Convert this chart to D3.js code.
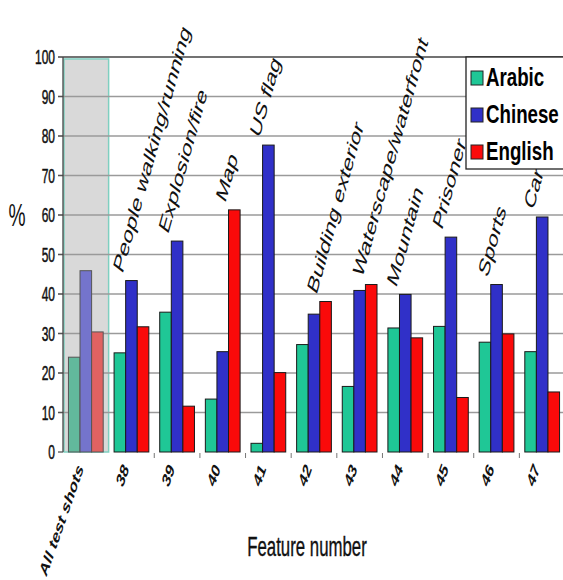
<!DOCTYPE html>
<html>
<head>
<meta charset="utf-8">
<script src="https://cdn.jsdelivr.net/npm/d3@7"></script>
<style>
  html, body { margin: 0; padding: 0; background: #fff; }
  svg { display: block; font-family: "Liberation Sans", Arial, sans-serif; }
</style>
</head>
<body>
<svg id="chart" width="563" height="580"></svg>
<script>
const categories = ["All test shots", "38", "39", "40", "41", "42", "43", "44", "45", "46", "47"];
const featureNames = ["", "People walking/running", "Explosion/fire", "Map", "US flag", "Building exterior", "Waterscape/waterfront", "Mountain", "Prisoner", "Sports", "Car"];
const seriesNames = ["Arabic", "Chinese", "English"];
const arabic  = [24.0, 25.1, 35.4, 13.4, 2.2, 27.2, 16.6, 31.4, 31.8, 27.8, 25.4];
const chinese = [45.9, 43.4, 53.4, 25.4, 77.7, 34.9, 40.9, 39.9, 54.4, 42.4, 59.5];
const english = [30.4, 31.7, 11.6, 61.3, 20.1, 38.1, 42.4, 28.9, 13.8, 29.9, 15.2];
const yTicks = [0, 10, 20, 30, 40, 50, 60, 70, 80, 90, 100];

const colors = { Arabic: "#1fc796", Chinese: "#3030c8", English: "#fa0a0a" };
const fadedColors = { Arabic: "#62b99c", Chinese: "#7474cc", English: "#e06262" };
const SX = 0.6; // horizontal compression of the picture

const svg = d3.select("#chart");
const x = d3.scaleBand().domain(categories).range([63, 565]).padding(0);
const xi = d3.scaleBand().domain(seriesNames).range([0, x.bandwidth()]).paddingInner(0).paddingOuter(0.47);
const y = d3.scaleLinear().domain([0, 100]).range([452, 57]);

const valuesBySeries = { Arabic: arabic, Chinese: chinese, English: english };
const rows = categories.map((c, i) => ({
  cat: c, idx: i, feature: featureNames[i],
  vals: seriesNames.map(s => ({ s, v: valuesBySeries[s][i] }))
}));

// Highlight box for "All test shots"
svg.append("rect")
  .attr("x", x(categories[0]) + 1)
  .attr("y", y(99.5))
  .attr("width", x.bandwidth() - 1)
  .attr("height", y(0) - y(99.5))
  .attr("fill", "#d9d9d9")
  .attr("stroke", "#7fcfc0")
  .attr("stroke-width", 1.5);

// Gridlines
svg.append("g").selectAll("line").data(yTicks).join("line")
  .attr("x1", 58).attr("x2", 563)
  .attr("y1", d => y(d)).attr("y2", d => y(d))
  .attr("stroke", d => d === 100 ? "#444" : (d === 0 ? "none" : "#9a9a9a"))
  .attr("stroke-width", d => d === 100 ? 1.6 : 1.3);

svg.append("g").selectAll("line").data(yTicks.filter(d => d > 0 && d < 100)).join("line")
  .attr("x1", 58).attr("x2", 63)
  .attr("y1", d => y(d)).attr("y2", d => y(d))
  .attr("stroke", "#555").attr("stroke-width", 1.3);

// Y axis line
svg.append("line").attr("x1", 63).attr("x2", 63).attr("y1", y(100)).attr("y2", y(0))
  .attr("stroke", "#444").attr("stroke-width", 1.3);
svg.append("line").attr("x1", 58).attr("x2", 63).attr("y1", y(0)).attr("y2", y(0))
  .attr("stroke", "#555").attr("stroke-width", 1.3);

// Y tick labels
svg.append("g").selectAll("text").data(yTicks).join("text")
  .attr("transform", d => `translate(55,${y(d) + 7}) scale(${SX},1)`)
  .attr("text-anchor", "end")
  .attr("font-size", 20)
  .attr("fill", "#111")
  .attr("stroke", "#111").attr("stroke-width", 0.5)
  .text(d => d);

// "%" label
svg.append("text")
  .attr("transform", `translate(17,226) scale(${SX},1)`)
  .attr("text-anchor", "middle")
  .attr("font-size", 32)
  .attr("fill", "#111")
  .text("%");

// Bars
const groups = svg.append("g").selectAll("g").data(rows).join("g")
  .attr("transform", d => `translate(${x(d.cat)},0)`);
groups.selectAll("rect").data(d => d.vals.map(v => ({ ...v, first: d.idx === 0 }))).join("rect")
  .attr("x", d => xi(d.s))
  .attr("width", xi.bandwidth())
  .attr("y", d => y(d.v))
  .attr("height", d => y(0) - y(d.v))
  .attr("fill", d => d.first ? fadedColors[d.s] : colors[d.s])
  .attr("stroke", d => d.first ? "#555" : "#1a1a1a")
  .attr("stroke-width", 1);

// small ticks at band boundaries under the axis
svg.append("g").selectAll("line").data(categories.slice(2)).join("line")
  .attr("x1", d => x(d)).attr("x2", d => x(d))
  .attr("y1", y(0) + 1).attr("y2", y(0) + 6)
  .attr("stroke", "#777").attr("stroke-width", 1);

// Feature name labels above bars
const FEAT_ANGLE = 65;
svg.append("g").selectAll("text").data(rows.filter(r => r.feature)).join("text")
  .attr("transform", d => {
    const mx = d.vals.reduce((a, b) => (b.v > a.v ? b : a));
    const cx = x(d.cat) + xi(mx.s) + xi.bandwidth() / 2 - 9;
    const cy = y(mx.v) - 6;
    return `translate(${cx},${cy}) scale(${SX},1) rotate(${-FEAT_ANGLE})`;
  })
  .attr("text-anchor", "start")
  .attr("font-size", 26)
  .attr("fill", "#111")
  .text(d => d.feature);

// X category labels
const XL_ANGLE = 60;
svg.append("g").selectAll("text").data(categories).join("text")
  .attr("transform", d => `translate(${x(d) + x.bandwidth() / 2 - 2},469) scale(${SX},1) rotate(${-XL_ANGLE})`)
  .attr("text-anchor", "end")
  .attr("font-size", 20)
  .attr("font-weight", "bold")
  .attr("fill", "#111")
  .text(d => d);

// X axis title
svg.append("text")
  .attr("transform", `translate(307,556) scale(${SX},1)`)
  .attr("text-anchor", "middle")
  .attr("font-size", 28)
  .attr("fill", "#111")
  .attr("stroke", "#111").attr("stroke-width", 0.4)
  .text("Feature number");

// Legend
const legend = svg.append("g");
legend.append("rect")
  .attr("x", 466).attr("y", 57).attr("width", 110).attr("height", 112)
  .attr("fill", "#fff").attr("stroke", "#222").attr("stroke-width", 1.3);
const li = legend.selectAll("g").data(seriesNames).join("g")
  .attr("transform", (d, i) => `translate(471,${71 + i * 37})`);
li.append("rect")
  .attr("width", 12).attr("height", 14)
  .attr("fill", d => colors[d]).attr("stroke", "#222").attr("stroke-width", 1);
li.append("text")
  .attr("transform", `translate(15,15) scale(0.72,1)`)
  .attr("font-size", 26)
  .attr("font-weight", "bold")
  .attr("fill", "#000")
  .text(d => d);
</script>
</body>
</html>
